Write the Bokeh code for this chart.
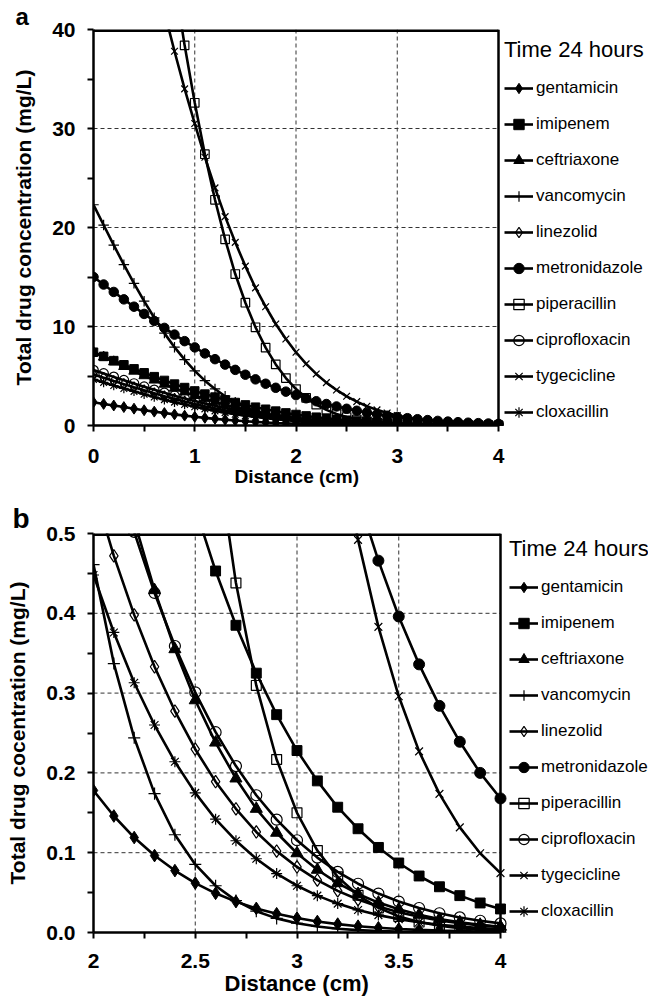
from bokeh.plotting import figure
from bokeh.models import Range1d, FixedTicker, PrintfTickFormatter, Legend, LegendItem, Title
from bokeh.layouts import column
from bokeh.embed import file_html
from bokeh.resources import INLINE

FONT = "Liberation Sans"

# ---------------- data (Time 24 hours) ----------------
distance = [0.0, 0.1, 0.2, 0.3, 0.4, 0.5, 0.6, 0.7, 0.8, 0.9,
            1.0, 1.1, 1.2, 1.3, 1.4, 1.5, 1.6, 1.7, 1.8, 1.9,
            2.0, 2.1, 2.2, 2.3, 2.4, 2.5, 2.6, 2.7, 2.8, 2.9,
            3.0, 3.1, 3.2, 3.3, 3.4, 3.5, 3.6, 3.7, 3.8, 3.9, 4.0]

gentamicin = [2.35, 2.18, 2.02, 1.86, 1.70, 1.54, 1.40, 1.26, 1.12, 0.997,
              0.881, 0.772, 0.673, 0.584, 0.503, 0.430, 0.365, 0.308, 0.258, 0.215,
              0.178, 0.146, 0.119, 0.0964, 0.0776, 0.0619, 0.0491, 0.0387, 0.0302, 0.0235,
              0.0181, 0.0138, 0.0105, 0.00792, 0.00593, 0.00441, 0.00325, 0.00238, 0.00173, 0.00125, 0.00089]
imipenem = [7.40, 6.98, 6.55, 6.13, 5.72, 5.32, 4.93, 4.55, 4.18, 3.83,
            3.49, 3.17, 2.87, 2.59, 2.32, 2.08, 1.85, 1.64, 1.45, 1.27,
            1.11, 0.967, 0.838, 0.724, 0.622, 0.532, 0.453, 0.385, 0.325, 0.273,
            0.228, 0.190, 0.157, 0.130, 0.1066, 0.0871, 0.0708, 0.0573, 0.0462, 0.0370, 0.0295]
ceftriaxone = [7.40, 6.91, 6.43, 5.96, 5.49, 5.03, 4.59, 4.17, 3.77, 3.39,
               3.03, 2.70, 2.39, 2.10, 1.84, 1.60, 1.39, 1.19, 1.02, 0.868,
               0.735, 0.618, 0.516, 0.429, 0.355, 0.291, 0.238, 0.193, 0.155, 0.125,
               0.0993, 0.0786, 0.0618, 0.0483, 0.0375, 0.0290, 0.0223, 0.0170, 0.0129, 0.00968, 0.00724]
vancomycin = [22.3, 20.25, 18.22, 16.25, 14.36, 12.56, 10.88, 9.33, 7.91, 6.65,
              5.52, 4.53, 3.69, 2.96, 2.35, 1.84, 1.43, 1.10, 0.832, 0.623,
              0.461, 0.337, 0.244, 0.174, 0.1225, 0.0853, 0.0586, 0.0399, 0.0267, 0.0177,
              0.0116, 0.00749, 0.00476, 0.00299, 0.00187, 0.00114, 0.000694, 0.000416, 0.00025, 0.000145, 0.000085]
linezolid = [5.16, 4.83, 4.50, 4.18, 3.86, 3.55, 3.25, 2.96, 2.69, 2.42,
             2.18, 1.95, 1.73, 1.53, 1.35, 1.18, 1.03, 0.889, 0.764, 0.654,
             0.557, 0.472, 0.398, 0.333, 0.2775, 0.2297, 0.189, 0.155, 0.126, 0.102,
             0.0822, 0.0657, 0.0522, 0.0413, 0.0325, 0.0254, 0.0197, 0.0152, 0.0117, 0.0089, 0.00675]
metronidazole = [15.0, 14.24, 13.49, 12.74, 12.00, 11.27, 10.56, 9.86, 9.18, 8.52,
                 7.89, 7.28, 6.70, 6.15, 5.62, 5.13, 4.66, 4.22, 3.81, 3.42,
                 3.07, 2.75, 2.45, 2.17, 1.92, 1.69, 1.49, 1.30, 1.14, 0.989,
                 0.856, 0.739, 0.636, 0.545, 0.466, 0.396, 0.336, 0.284, 0.239, 0.200, 0.168]
piperacillin = [114.7, 104.9, 95.2, 85.8, 76.7, 67.9, 59.7, 52.0, 44.9, 38.4,
                32.6, 27.4, 22.8, 18.8, 15.3, 12.4, 9.92, 7.86, 6.17, 4.79,
                3.68, 2.80, 2.11, 1.575, 1.162, 0.848, 0.613, 0.438, 0.3096, 0.2168,
                0.150, 0.1027, 0.0697, 0.0467, 0.0309, 0.0202, 0.0131, 0.00852, 0.00535, 0.00336, 0.00209]
ciprofloxacin = [5.60, 5.26, 4.91, 4.58, 4.24, 3.92, 3.60, 3.30, 3.01, 2.73,
                 2.47, 2.22, 1.99, 1.77, 1.57, 1.39, 1.22, 1.06, 0.925, 0.799,
                 0.688, 0.589, 0.502, 0.4255, 0.359, 0.301, 0.251, 0.2085, 0.172, 0.1414,
                 0.1156, 0.0939, 0.0759, 0.0611, 0.0488, 0.0388, 0.0307, 0.0241, 0.0189, 0.0147, 0.0114]
tygecicline = [74.0, 69.1, 64.3, 59.6, 54.9, 50.4, 46.0, 41.8, 37.8, 34.0,
               30.5, 27.1, 24.0, 21.1, 18.5, 16.1, 13.9, 12.0, 10.25, 8.74,
               7.40, 6.23, 5.21, 4.33, 3.59, 2.95, 2.41, 1.95, 1.58, 1.27,
               1.009, 0.800, 0.630, 0.492, 0.383, 0.296, 0.227, 0.1737, 0.1317, 0.0993, 0.0744]
cloxacillin = [4.66, 4.35, 4.04, 3.74, 3.45, 3.16, 2.88, 2.61, 2.36, 2.12,
               1.89, 1.68, 1.48, 1.30, 1.14, 0.989, 0.854, 0.733, 0.626, 0.531,
               0.448, 0.376, 0.313, 0.260, 0.214, 0.175, 0.142, 0.115, 0.0924, 0.0738,
               0.0586, 0.0462, 0.0362, 0.0282, 0.0218, 0.0168, 0.0128, 0.0097, 0.00732, 0.00548, 0.00411]

drug_names = ["gentamicin", "imipenem", "ceftriaxone", "vancomycin", "linezolid",
              "metronidazole", "piperacillin", "ciprofloxacin", "tygecicline", "cloxacillin"]
drug_values = [gentamicin, imipenem, ceftriaxone, vancomycin, linezolid,
               metronidazole, piperacillin, ciprofloxacin, tygecicline, cloxacillin]

a_x_ticks = [0, 1, 2, 3, 4]
a_x_minor = [0.5, 1.5, 2.5, 3.5]
a_y_ticks = [0, 10, 20, 30, 40]
a_y_minor = [5, 15, 25, 35]
b_x_ticks = [2, 2.5, 3, 3.5, 4]
b_x_minor = [2.25, 2.75, 3.25, 3.75]
b_y_ticks = [0.0, 0.1, 0.2, 0.3, 0.4, 0.5]
b_y_minor = [0.05, 0.15, 0.25, 0.35, 0.45]

# marker style per drug: (marker, filled, size factor)
STYLE = {
    "gentamicin": ("diamond", True, 1.15),
    "imipenem": ("square", True, 0.9),
    "ceftriaxone": ("triangle", True, 1.1),
    "vancomycin": ("cross", False, 1.1),
    "linezolid": ("diamond", False, 1.15),
    "metronidazole": ("circle", True, 1.0),
    "piperacillin": ("square", False, 0.9),
    "ciprofloxacin": ("circle", False, 1.0),
    "tygecicline": ("x", False, 1.0),
    "cloxacillin": ("asterisk", False, 1.0),
}

FIG_W = 651
LEFT = 93
RIGHT = 3


def make_panel(start, xt, xm, yt, ym, plot_px_w, ylab, xlab, xlab_size, xlab_offset,
               height, top, bottom, letter, letter_size, letter_offset, msize,
               yfmt, label_standoff_x, legend_xy, item_spacing):
    # frame extends to the right so the legend can sit inside it; data box = ticks span
    frame_w = FIG_W - LEFT - RIGHT
    x0, x1 = xt[0], xt[-1]
    x_end = x0 + (x1 - x0) * frame_w / plot_px_w
    y0, y1 = yt[0], yt[-1]
    p = figure(width=FIG_W, height=height, x_range=Range1d(x0, x_end), y_range=Range1d(y0, y1),
               output_backend="svg", toolbar_location=None,
               min_border_left=LEFT, min_border_right=RIGHT,
               min_border_top=top, min_border_bottom=bottom)
    p.background_fill_color = "white"
    p.border_fill_color = "white"
    p.outline_line_color = None
    p.xgrid.visible = False
    p.ygrid.visible = False

    # panel letter
    p.title.text = letter
    p.title.align = "left"
    p.title.offset = letter_offset
    p.title.text_font = FONT
    p.title.text_font_style = "bold"
    p.title.text_font_size = letter_size
    p.title.text_color = "black"
    p.title.standoff = 0

    p.xaxis.ticker = FixedTicker(ticks=xt, minor_ticks=xm)
    p.yaxis.ticker = FixedTicker(ticks=yt, minor_ticks=ym)
    p.xaxis.formatter = PrintfTickFormatter(format="%g")
    p.yaxis.formatter = PrintfTickFormatter(format=yfmt)
    p.xaxis.bounds = (x0, x1)

    for ax in (p.xaxis, p.yaxis):
        ax.axis_line_width = 2.5
        ax.axis_line_color = "black"
        ax.major_tick_line_width = 2
        ax.minor_tick_line_width = 2
        ax.major_tick_line_color = "black"
        ax.minor_tick_line_color = "black"
        ax.major_tick_out = 6
        ax.major_tick_in = 0
        ax.minor_tick_out = 6
        ax.minor_tick_in = 0
        ax.major_label_text_font = FONT
        ax.major_label_text_font_style = "bold"
        ax.major_label_text_font_size = "21px"
        ax.major_label_text_color = "black"

    p.yaxis.major_label_standoff = 12
    p.xaxis.major_label_standoff = label_standoff_x
    p.yaxis.axis_label = ylab
    p.yaxis.axis_label_text_font = FONT
    p.yaxis.axis_label_text_font_size = "21px"
    p.yaxis.axis_label_text_font_style = "bold"
    p.yaxis.axis_label_text_color = "black"
    p.yaxis.axis_label_standoff = 14

    # x-axis title placed under the data box (not the full frame)
    xt_title = Title(text=xlab, align="left", offset=xlab_offset, vertical_align="top",
                     text_font=FONT, text_font_style="bold", text_font_size=xlab_size,
                     text_color="black", standoff=0)
    p.add_layout(xt_title, "below")

    # dashed grid inside the data box
    gx = xt[1:-1]
    p.segment(x0=gx, y0=[y0] * len(gx), x1=gx, y1=[y1] * len(gx),
              line_color="#333333", line_dash="4 3", line_width=1)
    gy = yt[1:-1]
    p.segment(x0=[x0] * len(gy), y0=gy, x1=[x1] * len(gy), y1=gy,
              line_color="#333333", line_dash="4 3", line_width=1)

    items = []
    for name, vals in zip(drug_names, drug_values):
        marker, filled, fac = STYLE[name]
        xs = distance[start:]
        ys = vals[start:]
        lr = p.line(xs, ys, line_color="black", line_width=2.6)
        sr = p.scatter(xs, ys, marker=marker, size=msize * fac,
                       line_color="black", line_width=1.2 if not filled else 1,
                       fill_color="black" if filled else None)
        items.append(LegendItem(label=name, renderers=[lr, sr]))

    # data box: top and right edges
    p.segment(x0=[x0], y0=[y1], x1=[x1], y1=[y1], line_color="black", line_width=5)
    p.segment(x0=[x1], y0=[y0], x1=[x1], y1=[y1], line_color="black", line_width=2.5)

    leg = Legend(items=items, location=legend_xy, title="Time 24 hours")
    leg.title_text_font = FONT
    leg.title_text_font_size = "22px"
    leg.title_text_font_style = "normal"
    leg.title_text_color = "black"
    leg.title_standoff = 12
    leg.label_text_font = FONT
    leg.label_text_font_size = "17px"
    leg.label_text_color = "black"
    leg.glyph_width = 29
    leg.glyph_height = 26
    leg.label_height = 26
    leg.label_standoff = 3
    leg.spacing = item_spacing
    leg.padding = 0
    leg.margin = 0
    leg.border_line_alpha = 0
    leg.background_fill_alpha = 0
    p.add_layout(leg)
    return p


pa = make_panel(0, a_x_ticks, a_x_minor, a_y_ticks, a_y_minor, 405,
                "Total drug concentration (mg/L)", "Distance (cm)", "19px", 141,
                495, 28, 70, "a", "24px", -78, 9.5, "%d", 17, (411, 0), 10)
pb = make_panel(20, b_x_ticks, b_x_minor, b_y_ticks, b_y_minor, 407,
                "Total drug cocentration (mg/L)", "Distance (cm)", "22px", 131,
                507, 38, 70, "b", "28px", -81, 11, "%.1f", 15, (416, 8), 10)

layout = column(pa, pb, spacing=0)
open("out.html", "w").write(file_html(layout, INLINE))
